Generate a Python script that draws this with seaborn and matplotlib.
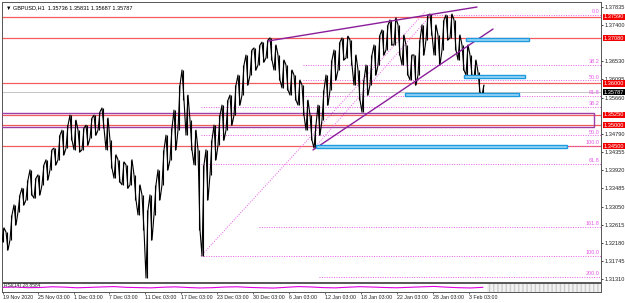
import numpy as np
import pandas as pd
import seaborn as sns
import matplotlib
matplotlib.use("Agg")
import matplotlib.pyplot as plt
import matplotlib.transforms as mtransforms
from matplotlib.patches import Rectangle

sns.set_theme(style="white")
plt.rcParams['font.family'] = ['Liberation Sans', 'DejaVu Sans']

# ---------------- data ----------------
# price column summaries (high / low) of the GBPUSD H1 chart, left to right
highs = [1.3254, 1.3244, 1.3285, 1.3309, 1.3333, 1.3349, 1.3369, 1.3393, 1.3373, 1.3381,
         1.3405, 1.3417, 1.3441, 1.3445, 1.3476, 1.3488, 1.3500, 1.3524, 1.3512, 1.3488,
         1.3493, 1.3500, 1.3517, 1.3524, 1.3532, 1.3541, 1.3517, 1.3464, 1.3429, 1.3417,
         1.3412, 1.3405, 1.3417, 1.3381, 1.3357, 1.3333, 1.3297, 1.3333, 1.3357, 1.3393,
         1.3441, 1.3476, 1.3493, 1.3536, 1.3596, 1.3632, 1.3572, 1.3512, 1.3488, 1.3441,
         1.3405, 1.3441, 1.3464, 1.3500, 1.3524, 1.3548, 1.3560, 1.3572, 1.3596, 1.3620,
         1.3644, 1.3668, 1.3680, 1.3685, 1.3692, 1.3699, 1.3704, 1.3709, 1.3692, 1.3668,
         1.3656, 1.3644, 1.3632, 1.3620, 1.3608, 1.3596, 1.3560, 1.3524, 1.3500, 1.3548,
         1.3584, 1.3620, 1.3656, 1.3680, 1.3699, 1.3709, 1.3713, 1.3704, 1.3668, 1.3632,
         1.3608, 1.3644, 1.3668, 1.3692, 1.3716, 1.3728, 1.3740, 1.3752, 1.3757, 1.3740,
         1.3716, 1.3692, 1.3668, 1.3668, 1.3704, 1.3740, 1.3764, 1.3766, 1.3740, 1.3716,
         1.3752, 1.3764, 1.3766, 1.3752, 1.3716, 1.3692, 1.3692, 1.3668, 1.3656, 1.3627,
         1.3596]
lows = [1.3220, 1.3201, 1.3225, 1.3261, 1.3292, 1.3309, 1.3321, 1.3333, 1.3325, 1.3333,
        1.3357, 1.3369, 1.3393, 1.3405, 1.3417, 1.3429, 1.3445, 1.3464, 1.3441, 1.3436,
        1.3441, 1.3452, 1.3469, 1.3476, 1.3488, 1.3493, 1.3441, 1.3397, 1.3373, 1.3364,
        1.3357, 1.3349, 1.3357, 1.3321, 1.3285, 1.3249, 1.3134, 1.3225, 1.3285, 1.3321,
        1.3357, 1.3393, 1.3417, 1.3441, 1.3488, 1.3560, 1.3476, 1.3441, 1.3405, 1.3249,
        1.3187, 1.3321, 1.3381, 1.3417, 1.3452, 1.3464, 1.3488, 1.3500, 1.3524, 1.3548,
        1.3572, 1.3596, 1.3620, 1.3632, 1.3644, 1.3651, 1.3661, 1.3656, 1.3632, 1.3608,
        1.3589, 1.3584, 1.3572, 1.3560, 1.3548, 1.3524, 1.3488, 1.3464, 1.3445, 1.3476,
        1.3512, 1.3548, 1.3584, 1.3608, 1.3632, 1.3656, 1.3661, 1.3644, 1.3596, 1.3560,
        1.3531, 1.3572, 1.3596, 1.3620, 1.3644, 1.3668, 1.3680, 1.3692, 1.3692, 1.3668,
        1.3644, 1.3620, 1.3608, 1.3596, 1.3620, 1.3668, 1.3704, 1.3716, 1.3668, 1.3644,
        1.3680, 1.3704, 1.3709, 1.3680, 1.3656, 1.3632, 1.3620, 1.3620, 1.3613, 1.3579,
        1.3572]

date_labels = ["19 Nov 2020", "25 Nov 03:00", "1 Dec 03:00", "7 Dec 03:00", "11 Dec 03:00",
               "17 Dec 03:00", "23 Dec 03:00", "30 Dec 03:00", "6 Jan 03:00", "12 Jan 03:00",
               "18 Jan 03:00", "22 Jan 03:00", "28 Jan 03:00", "3 Feb 03:00"]
price_ticks = [1.37835, 1.37400, 1.36530, 1.36095, 1.35660, 1.34790, 1.34355, 1.33920,
               1.33485, 1.33050, 1.32615, 1.32180, 1.31745, 1.31310]
red_levels = [1.37590, 1.37080, 1.36000, 1.35250, 1.35000, 1.34500]
current_price = 1.35787
header = "GBPUSD,H1  1.35736 1.35831 1.35687 1.35787"

# two Fibonacci tools: (high anchor, low anchor, start column, level ratios)
fib_a_high, fib_a_low = 1.37638, 1.34500
fib_a_levels = [0.0, 38.2, 50.0, 61.8, 100.0, 161.8, 200.0]
fib_a_start = [106, 75, 75, 75, 77, 64, 79]
fib_b_high, fib_b_low = 1.37638, 1.31866
fib_b_levels = [38.2, 50.0, 61.8, 100.0]
fib_b_start = [49.5, 49.5, 49.5, 49.5]

# trend lines: (col0, price0, col1, price1)
trend_upper = [66.25, 1.37015, 118.5, 1.37829]
trend_lower = [77.5, 1.34405, 122.5, 1.37302]
fib_b_diag = [49.5, 1.31866, 105.5, 1.37710]
fib_a_diag = [78.25, 1.34500, 107.0, 1.37638]
# zones: (col0, col1, price_low, price_high)
blue_zones = [[115.75, 131.5, 1.37003, 1.37075],
              [115.25, 130.5, 1.36129, 1.36201],
              [100.5, 129.0, 1.35698, 1.35758],
              [78.25, 141.0, 1.34464, 1.34524]]
box_zone = [-0.5, 147.75, 1.34967, 1.35291]

rsi_values = [52, 55, 48, 50, 58, 54, 47, 51, 56, 60, 52, 49, 46, 53, 57, 50, 45, 48, 55, 58,
              51, 47, 44, 52, 60, 56, 49, 46, 53, 59, 55, 50, 47, 52, 57, 62, 54, 48, 45, 52]
rsi_label = "RSI(14) 28.8584"

# ---------------- figure ----------------
W, H = 625, 303
fig = plt.figure(figsize=(W / 100, H / 100), dpi=100)
fig.patch.set_facecolor("white")
ax = fig.add_axes([2 / W, (H - 282) / H, 599 / W, 280 / H])
axr = fig.add_axes([2 / W, (H - 292) / H, 599 / W, 9 / H])

x_max = 149.5
ax.set_xlim(-0.25, x_max)
ax.set_ylim(1.31243, 1.37949)

TICK_FS = 4.1
FIB_C = "#E85BE8"

# horizontal red levels
for lv in red_levels:
    ax.axhline(lv, color="#F25C5C", lw=0.9, zorder=2)

# box zone
bz = box_zone
ax.add_patch(Rectangle((bz[0], bz[2]), bz[1] - bz[0], bz[3] - bz[2], facecolor="none",
                       edgecolor="#9B3FA6", lw=1.0, zorder=3))

# fib levels
def draw_fib(hi, lo, levels, starts):
    for lev, st in zip(levels, starts):
        pr = hi - lev / 100.0 * (hi - lo)
        ax.plot([st, x_max], [pr, pr], color=FIB_C, lw=0.7, ls=(0, (1, 1.5)), zorder=2)
        ax.text(149.2, pr + 0.00014, f"{lev:.1f}", color=FIB_C, fontsize=4.0, ha="right",
                va="bottom", zorder=4)

draw_fib(fib_a_high, fib_a_low, fib_a_levels, fib_a_start)
draw_fib(fib_b_high, fib_b_low, fib_b_levels, fib_b_start)
for d in (fib_b_diag, fib_a_diag):
    ax.plot([d[0], d[2]], [d[1], d[3]], color=FIB_C, lw=0.7, ls=(0, (1, 1.5)), zorder=2)

# bid line
ax.axhline(current_price, color="#BBBBBB", lw=0.6, zorder=1)

# price series (zig-zag through column highs and lows)
n = len(highs)
xs, ys = [], []
for i in range(n):
    a, b = (lows[i], highs[i]) if i % 2 == 0 else (highs[i], lows[i])
    xs += [i - 0.25, i + 0.25]
    ys += [a, b]
df = pd.DataFrame({"x": xs, "y": ys})
sns.lineplot(data=df, x="x", y="y", sort=False, estimator=None, color="black", lw=0.8, ax=ax, zorder=5)
ax.vlines(np.arange(n), lows, highs, color="black", lw=0.8, zorder=5)

# trend lines
for t in (trend_upper, trend_lower):
    ax.plot([t[0], t[2]], [t[1], t[3]], color="#8A1E9A", lw=1.0, zorder=6)

# blue zones
for z in blue_zones:
    ax.add_patch(Rectangle((z[0], z[2]), z[1] - z[0], z[3] - z[2], facecolor="#9FD8F5",
                           edgecolor="#1E9BE0", lw=1.0, zorder=6))

# axes styling
ax.set_xlabel("")
ax.set_ylabel("")
ax.set_xticks([])
ax.yaxis.tick_right()
ax.set_yticks(price_ticks)
ax.set_yticklabels([f"{p:.5f}" for p in price_ticks], fontsize=TICK_FS, color="#222222")
ax.tick_params(axis="y", length=1.5, width=0.6, pad=1.0, colors="#222222", right=True)
for s in ax.spines.values():
    s.set_color("#555555")
    s.set_linewidth(0.7)

trans = mtransforms.blended_transform_factory(ax.transAxes, ax.transData)
for lv in red_levels:
    ax.text(1.0045, lv, f"{lv:.5f}", transform=trans, fontsize=TICK_FS, color="white", va="center",
            ha="left", bbox=dict(boxstyle="square,pad=0.12", fc="#F20000", ec="none"), zorder=10,
            clip_on=False)
ax.text(1.0045, current_price, f"{current_price:.5f}", transform=trans, fontsize=TICK_FS, color="white",
        va="center", ha="left", bbox=dict(boxstyle="square,pad=0.12", fc="black", ec="none"),
        zorder=11, clip_on=False)

ax.text(0.006, 0.99, "\u25bc " + header, transform=ax.transAxes, fontsize=4.0, color="black",
        va="top", ha="left")

# ---------------- RSI panel ----------------
axr.set_xlim(-0.25, x_max)
axr.set_ylim(0, 100)
rx = np.linspace(0, n - 1, len(rsi_values))
sns.lineplot(x=rx, y=rsi_values, color="#E000E0", lw=0.8, ax=axr)
axr.add_patch(Rectangle((n, 0), x_max - n, 100, facecolor="#F2F2F2", edgecolor="#CCCCCC",
                        hatch="||||", lw=0))
axr.text(0.003, 0.95, rsi_label, transform=axr.transAxes, fontsize=3.6, va="top", ha="left")
axr.set_yticks([])
tick_pos = [0, 8.75, 17.7, 26.6, 35.6, 44.5, 53.5, 62.4, 71.4, 80.6, 89.6, 98.6, 107.5, 116.4]
axr.set_xticks(tick_pos)
axr.set_xticklabels(date_labels, fontsize=3.8, ha="left")
axr.tick_params(axis="x", length=1.5, width=0.5, pad=1, colors="#222222", bottom=True)
for s in axr.spines.values():
    s.set_color("#555555")
    s.set_linewidth(0.7)

fig.savefig("out.png", dpi=100, facecolor="white")
